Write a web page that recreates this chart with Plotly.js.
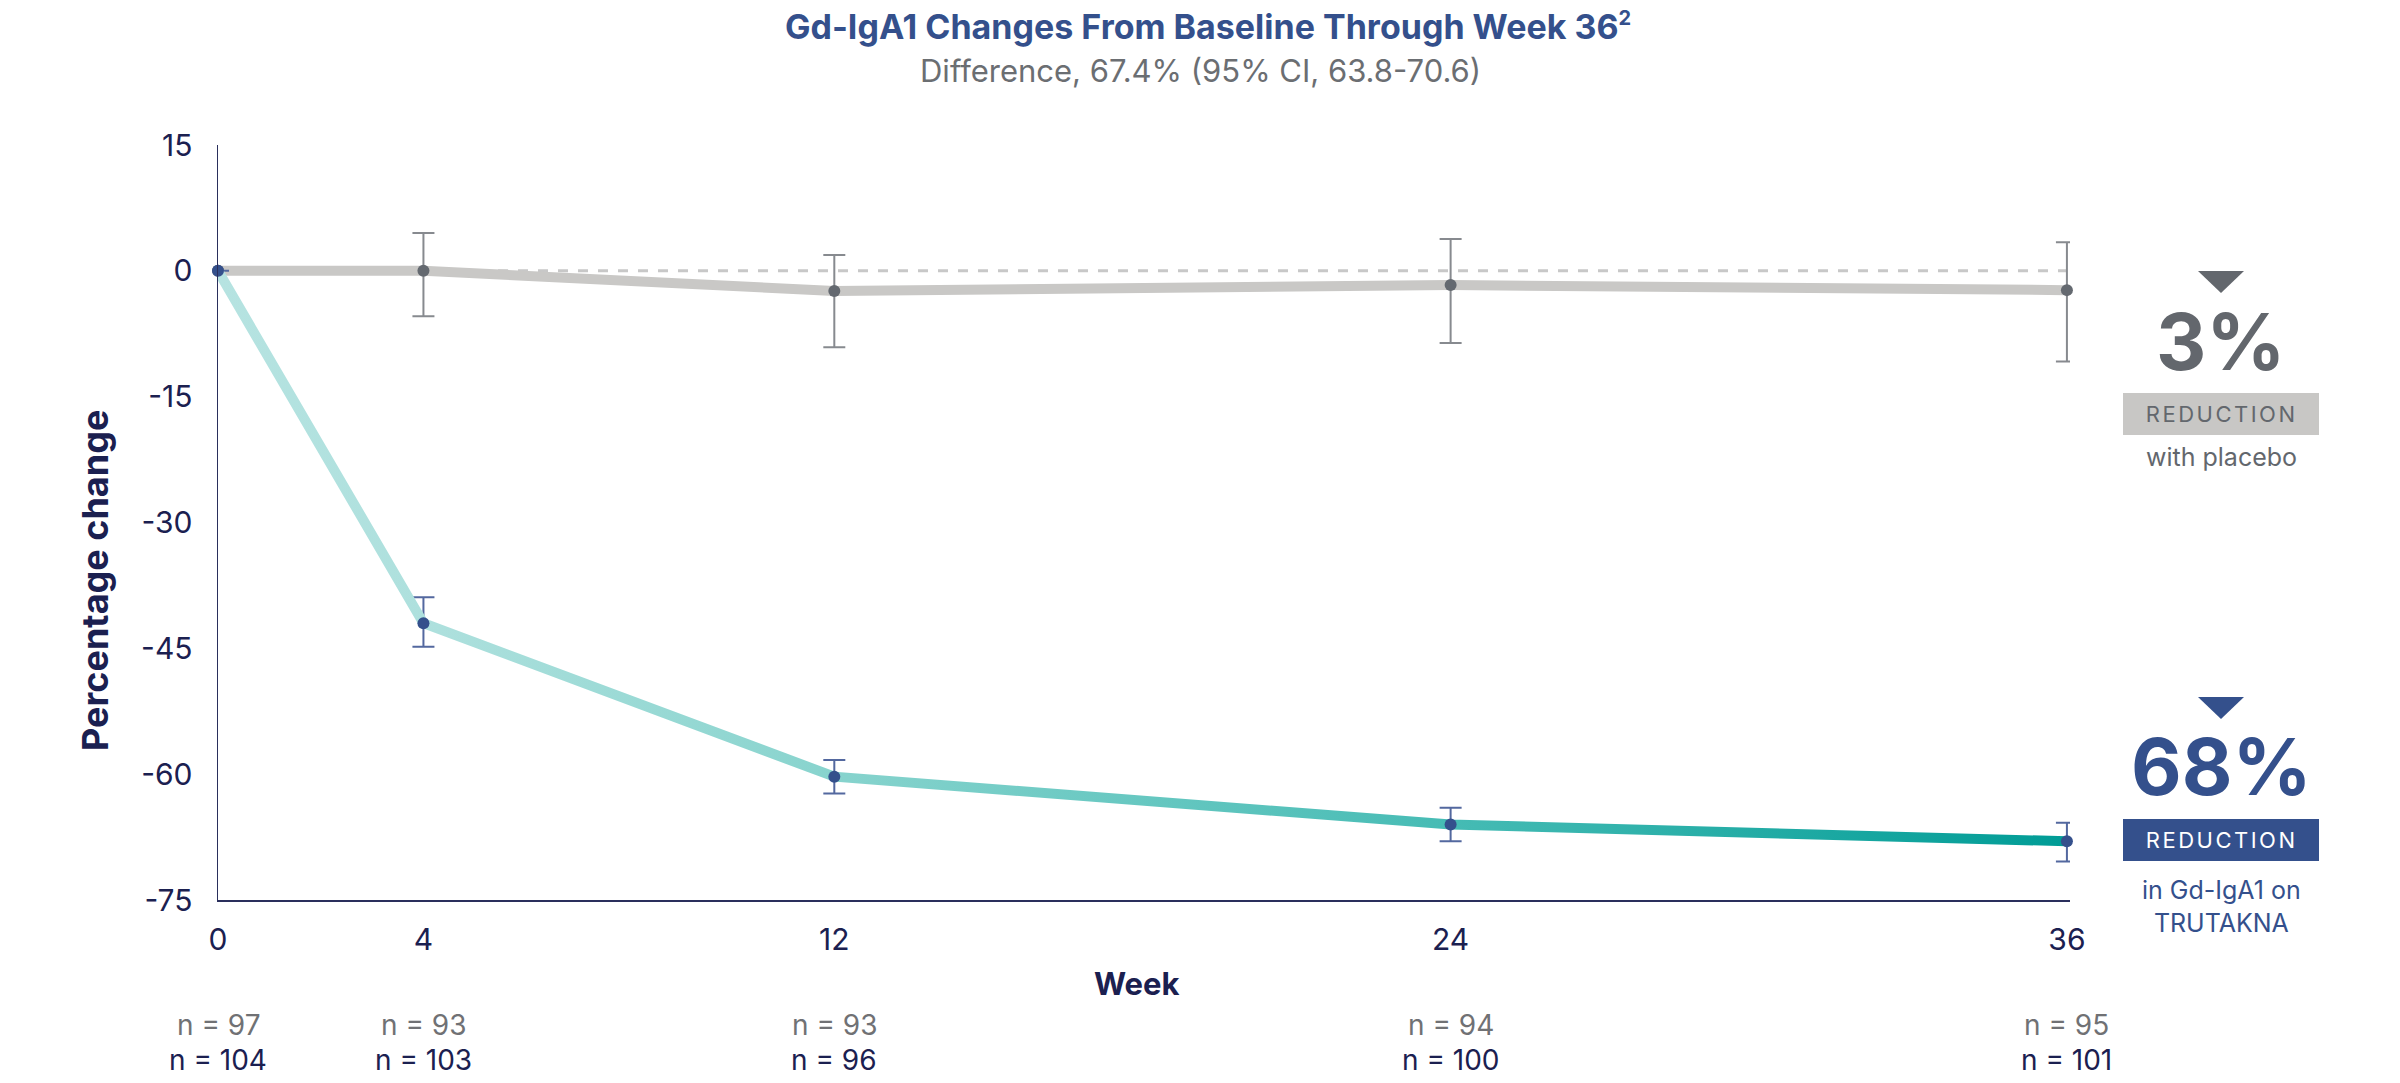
<!DOCTYPE html>
<html>
<head>
<meta charset="utf-8">
<script src="https://cdn.plot.ly/plotly-3.0.1.min.js"></script>
<style>html,body{margin:0;padding:0;background:#fff;}#chart{width:2400px;height:1083px;}</style>
</head>
<body>
<div id="chart"></div>
<script>
// ---- data ----
const weeks = [0, 4, 12, 24, 36];
const weekLabels = ['0', '4', '12', '24', '36'];
const placebo = [0, 0, -2.4, -1.7, -2.3];
const placeboUpper = [null, 4.5, 1.9, 3.8, 3.4];
const placeboLower = [null, -5.4, -9.1, -8.6, -10.8];
const trutakna = [0, -42.0, -60.3, -66.0, -68.0];
const trutaknaUpper = [null, -38.9, -58.3, -64.0, -65.8];
const trutaknaLower = [null, -44.8, -62.3, -68.0, -70.4];
const nPlacebo = [97, 93, 93, 94, 95];
const nTrutakna = [104, 103, 96, 100, 101];
const yTicks = [15, 0, -15, -30, -45, -60, -75];
const yTickLabels = ['15', '0', '-15', '-30', '-45', '-60', '-75'];

// ---- styling ----
const FONT = "Inter, 'Open Sans', sans-serif";
const NAVY = '#34508c';
const INK = '#1b2050';
const GRAY_DARK = '#63676d';
const GRAY_LINE = '#c9c8c6';

// pixel -> paper helpers (plot area: x 218..2070, y 145..900)
const L = 218, R = 2070, T = 145, B = 900;
const px = v => (v - L) / (R - L);
const py = v => (B - v) / (B - T);

function plus(vals, up) { return vals.map((v, i) => up[i] == null ? null : up[i] - v); }
function minus(vals, lo) { return vals.map((v, i) => lo[i] == null ? null : v - lo[i]); }

const traces = [
  {
    x: weeks, y: placebo, type: 'scatter', mode: 'lines+markers',
    line: {color: GRAY_LINE, width: 10},
    marker: {color: '#646970', size: 12},
    error_y: {type: 'data', symmetric: false, array: plus(placebo, placeboUpper),
              arrayminus: minus(placebo, placeboLower), color: '#878a8f', thickness: 2, width: 11},
    hoverinfo: 'skip', cliponaxis: false
  },
  {
    x: weeks, y: trutakna, type: 'scatter', mode: 'lines+markers',
    line: {color: '#6cc9c2', width: 10},
    marker: {color: NAVY, size: 12},
    error_y: {type: 'data', symmetric: false, array: plus(trutakna, trutaknaUpper),
              arrayminus: minus(trutakna, trutaknaLower), color: '#53689f', thickness: 2, width: 11},
    hoverinfo: 'skip', cliponaxis: false
  }
];

const annotations = [];
// title / subtitle
annotations.push({xref: 'paper', yref: 'paper', x: px(1208), y: py(27), showarrow: false,
  text: '<b>Gd-IgA1 Changes From Baseline Through Week 36<sup><span style="font-size:20px">2</span></sup></b>',
  font: {family: FONT, size: 34, color: NAVY}, xanchor: 'center', yanchor: 'middle'});
annotations.push({xref: 'paper', yref: 'paper', x: px(1200), y: py(71), showarrow: false,
  text: 'Difference, 67.4% (95% CI, 63.8-70.6)',
  font: {family: FONT, size: 31, color: '#6b6e72'}, xanchor: 'center', yanchor: 'middle'});
// axis titles
annotations.push({xref: 'paper', yref: 'paper', x: px(95), y: py(581), showarrow: false, textangle: -90,
  text: '<b>Percentage change</b>', font: {family: FONT, size: 36, color: INK},
  xanchor: 'center', yanchor: 'middle'});
annotations.push({xref: 'paper', yref: 'paper', x: px(1137), y: py(983), showarrow: false,
  text: '<b>Week</b>', font: {family: FONT, size: 31, color: INK},
  xanchor: 'center', yanchor: 'middle'});
// n rows
weeks.forEach((w, i) => {
  annotations.push({xref: 'x', yref: 'paper', x: w, y: py(1025), showarrow: false,
    text: 'n = ' + nPlacebo[i], font: {family: FONT, size: 28, color: '#707174'},
    xanchor: 'center', yanchor: 'middle'});
  annotations.push({xref: 'x', yref: 'paper', x: w, y: py(1060), showarrow: false,
    text: 'n = ' + nTrutakna[i], font: {family: FONT, size: 28, color: INK},
    xanchor: 'center', yanchor: 'middle'});
});
// callouts
const CX = px(2221);
annotations.push({xref: 'paper', yref: 'paper', x: CX, y: py(341), showarrow: false,
  text: '<b>3%</b>', font: {family: FONT, size: 78, color: GRAY_DARK}, xanchor: 'center', yanchor: 'middle'});
annotations.push({xref: 'paper', yref: 'paper', x: CX, y: py(414), showarrow: false,
  text: 'REDUCTION', font: {family: FONT, size: 22, color: GRAY_DARK}, xanchor: 'center', yanchor: 'middle'});
annotations.push({xref: 'paper', yref: 'paper', x: CX, y: py(457), showarrow: false,
  text: 'with placebo', font: {family: FONT, size: 25, color: GRAY_DARK}, xanchor: 'center', yanchor: 'middle'});
annotations.push({xref: 'paper', yref: 'paper', x: CX, y: py(766), showarrow: false,
  text: '<b>68%</b>', font: {family: FONT, size: 78, color: NAVY}, xanchor: 'center', yanchor: 'middle'});
annotations.push({xref: 'paper', yref: 'paper', x: CX, y: py(840), showarrow: false,
  text: 'REDUCTION', font: {family: FONT, size: 22, color: '#ffffff'}, xanchor: 'center', yanchor: 'middle'});
annotations.push({xref: 'paper', yref: 'paper', x: CX, y: py(907), showarrow: false,
  text: 'in Gd-IgA1 on<br>TRUTAKNA', font: {family: FONT, size: 25, color: NAVY},
  xanchor: 'center', yanchor: 'middle'});

function tri(cx, top, bottom, halfW) {
  return 'M ' + px(cx - halfW) + ' ' + py(top) + ' L ' + px(cx + halfW) + ' ' + py(top) +
         ' L ' + px(cx) + ' ' + py(bottom) + ' Z';
}

const shapes = [
  {type: 'line', xref: 'x', yref: 'y', x0: 0, x1: 36, y0: 0, y1: 0, layer: 'below',
   line: {color: '#c8c8c8', width: 3, dash: '10px,10px'}},
  {type: 'path', xref: 'paper', yref: 'paper', path: tri(2221, 271, 293, 23),
   fillcolor: GRAY_DARK, line: {width: 0}},
  {type: 'rect', xref: 'paper', yref: 'paper', x0: px(2123), x1: px(2319), y0: py(435), y1: py(393),
   fillcolor: '#c8c7c5', line: {width: 0}, layer: 'below'},
  {type: 'path', xref: 'paper', yref: 'paper', path: tri(2221, 697, 719, 23),
   fillcolor: NAVY, line: {width: 0}},
  {type: 'rect', xref: 'paper', yref: 'paper', x0: px(2123), x1: px(2319), y0: py(861), y1: py(819),
   fillcolor: NAVY, line: {width: 0}, layer: 'below'}
];

const layout = {
  width: 2400, height: 1083,
  margin: {l: L, r: 2400 - R, t: T, b: 1083 - B, pad: 0},
  paper_bgcolor: '#ffffff', plot_bgcolor: '#ffffff',
  showlegend: false,
  font: {family: FONT, color: INK},
  xaxis: {
    range: [0, 36.06], tickmode: 'array', tickvals: weeks, ticktext: weekLabels,
    showgrid: false, zeroline: false, showline: true, linecolor: '#2a2f5c', linewidth: 1.5,
    ticks: '', tickfont: {family: FONT, size: 30, color: INK}, ticklabelstandoff: 12
  },
  yaxis: {
    range: [-75, 15], tickmode: 'array', tickvals: yTicks, ticktext: yTickLabels,
    showgrid: false, zeroline: false, showline: true, linecolor: '#2a2f5c', linewidth: 1.5,
    ticks: '', tickfont: {family: FONT, size: 30, color: INK}, ticklabelstandoff: 18
  },
  annotations: annotations,
  shapes: shapes
};

Plotly.newPlot('chart', traces, layout, {staticPlot: true, displayModeBar: false}).then(gd => {
  // teal gradient along the TRUTAKNA line
  const svg = gd.querySelector('svg.main-svg');
  const NS = 'http://www.w3.org/2000/svg';
  let defs = svg.querySelector('defs');
  if (!defs) { defs = document.createElementNS(NS, 'defs'); svg.insertBefore(defs, svg.firstChild); }
  const grad = document.createElementNS(NS, 'linearGradient');
  grad.setAttribute('id', 'tealGrad');
  grad.setAttribute('x1', '0'); grad.setAttribute('x2', '1');
  grad.setAttribute('y1', '0'); grad.setAttribute('y2', '0');
  [['0', '#b6e3e1'], ['0.12', '#ade0dd'], ['0.34', '#86d3cd'], ['0.67', '#45bbb4'], ['1', '#009c96']]
    .forEach(([o, c]) => {
      const s = document.createElementNS(NS, 'stop');
      s.setAttribute('offset', o); s.setAttribute('stop-color', c);
      grad.appendChild(s);
    });
  defs.appendChild(grad);
  const tr = gd.querySelectorAll('.scatterlayer .trace');
  if (tr.length > 1) {
    const p = tr[1].querySelector('path.js-line');
    if (p) p.style.stroke = 'url(#tealGrad)';
  }
  // letter spacing on REDUCTION labels
  gd.querySelectorAll('text.annotation-text').forEach(t => {
    if (t.textContent === 'REDUCTION') t.setAttribute('letter-spacing', '2.5px');
  });
});
</script>
</body>
</html>
